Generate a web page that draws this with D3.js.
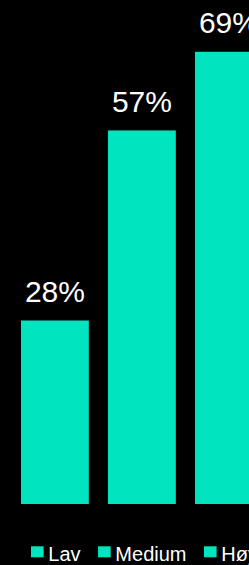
<!DOCTYPE html>
<html>
<head>
<meta charset="utf-8">
<script src="https://cdn.jsdelivr.net/npm/d3@7"></script>
<style>
  html, body { margin: 0; padding: 0; background: #000; overflow: hidden; }
  svg { display: block; }
</style>
</head>
<body>
<svg id="chart" width="249" height="565"></svg>
<script>
// data
var categories = ["Lav", "Medium", "Høy"];
var values = [28, 57, 69];
var labels = ["28%", "57%", "69%"];

var barColor = "#00e4bf";

var svg = d3.select("#chart");

// band scale is wider than the window, so the last bar runs off the right edge
var x = d3.scaleBand()
    .domain(categories)
    .range([11.4, 272.4])
    .paddingInner(0.22)
    .paddingOuter(0.11);

var y = d3.scaleLinear()
    .domain([0, 76.9])
    .range([504, 0]);

svg.selectAll("rect.bar")
    .data(values)
    .enter().append("rect")
    .attr("class", "bar")
    .attr("x", function(d, i) { return x(categories[i]); })
    .attr("y", function(d) { return y(d); })
    .attr("width", x.bandwidth())
    .attr("height", function(d) { return y(0) - y(d); })
    .attr("fill", barColor);

svg.selectAll("text.val")
    .data(values)
    .enter().append("text")
    .attr("class", "val")
    .attr("x", function(d, i) { return x(categories[i]) + x.bandwidth() / 2; })
    .attr("y", function(d) { return y(d) - 18.5; })
    .attr("text-anchor", "middle")
    .attr("font-family", "Liberation Sans, Arial, sans-serif")
    .attr("font-size", 30)
    .attr("fill", "#fff")
    .text(function(d, i) { return labels[i]; });

// legend, laid out left to right by measured text width
var legend = svg.append("g").attr("transform", "translate(31,0)");
var lx = 0;
categories.forEach(function(c) {
    var item = legend.append("g").attr("transform", "translate(" + lx + ",0)");
    item.append("rect")
        .attr("x", 0)
        .attr("y", 546.3)
        .attr("width", 12.6)
        .attr("height", 11)
        .attr("fill", barColor);
    var t = item.append("text")
        .attr("x", 17.3)
        .attr("y", 560.7)
        .attr("font-family", "Liberation Sans, Arial, sans-serif")
        .attr("font-size", 20)
        .attr("fill", "#fff")
        .text(c);
    lx += 17.3 + t.node().getComputedTextLength() + 17.5;
});
</script>
</body>
</html>
